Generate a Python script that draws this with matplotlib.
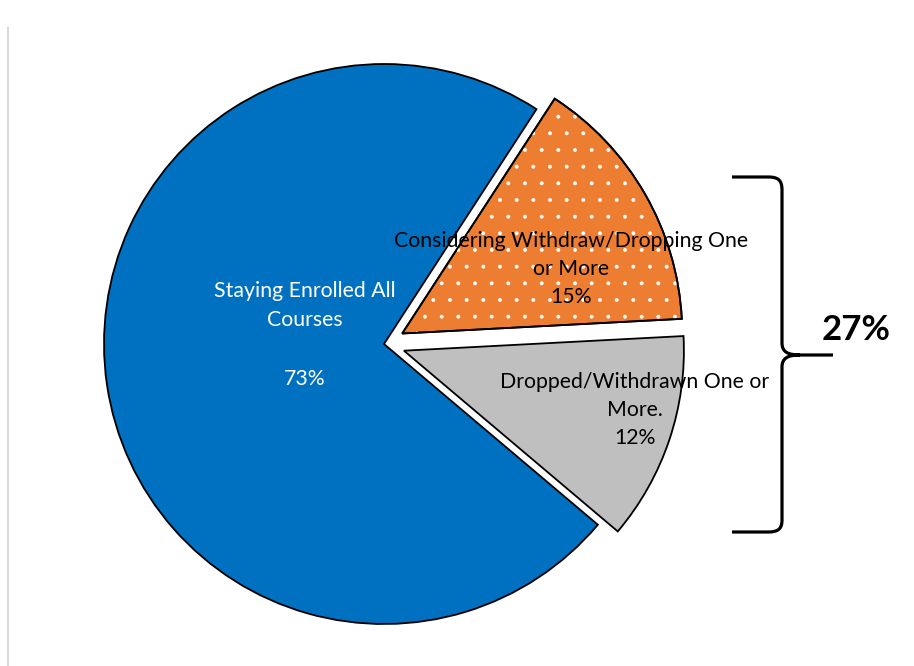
import matplotlib
matplotlib.use("Agg")
import matplotlib.pyplot as plt
import matplotlib.patches as mpatches
from matplotlib.path import Path

# data
categories = [
    "Staying Enrolled All\nCourses\n",
    "Considering Withdraw/Dropping One\nor More",
    "Dropped/Withdrawn One or\nMore.",
]
percents = [73, 15, 12]
colors = ["#0070C0", "#ED7D31", "#BFBFBF"]
text_colors = ["white", "black", "black"]
bracket_label = "27%"

plt.rcParams["font.family"] = ["Lato", "DejaVu Sans"]
plt.rcParams["hatch.linewidth"] = 0.35

W, H = 914, 666
fig = plt.figure(figsize=(W / 100, H / 100), dpi=100)
ax = fig.add_axes([0, 0, 1, 1])

# pie drawn in pixel-like data units (y up)
center = (384, H - 344)
radius = 280
wedges, _ = ax.pie(
    percents,
    colors=colors,
    explode=[0, 21, 21],
    startangle=319.8,
    counterclock=False,
    radius=radius,
    center=center,
    wedgeprops=dict(edgecolor="black", linewidth=1.3, joinstyle="miter"),
)

# white dotted pattern on the orange slice
w = wedges[1]
dots = mpatches.Wedge(w.center, w.r, w.theta1, w.theta2, facecolor="none",
                      edgecolor="white", hatch=".", linewidth=0, zorder=w.get_zorder() + 0.1)
ax.add_patch(dots)
outline = mpatches.Wedge(w.center, w.r, w.theta1, w.theta2, facecolor="none",
                         edgecolor="black", linewidth=1.3, zorder=w.get_zorder() + 0.2)
ax.add_patch(outline)

# slice labels
label_pos = [(305, 335), (571, 269), (635, 410)]
spacing = [1.58, 1.52, 1.52]
for cat, pct, tc, (lx, ly), ls in zip(categories, percents, text_colors, label_pos, spacing):
    ax.text(lx, H - ly, f"{cat}\n{pct}%", color=tc, ha="center", va="center",
            fontsize=15.3, linespacing=ls, zorder=5)

# curly bracket on the right
def yy(v):
    return H - v

verts = [
    (732, yy(177)), (768, yy(177)),
    (778, yy(177)), (782, yy(180)), (782, yy(190)),
    (782, yy(343)),
    (782, yy(352)), (788, yy(355)), (800, yy(355)),
    (833, yy(355)),
    (800, yy(355)),
    (788, yy(355)), (782, yy(358)), (782, yy(367)),
    (782, yy(520)),
    (782, yy(529)), (778, yy(532)), (768, yy(532)),
    (732, yy(532)),
]
codes = [
    Path.MOVETO, Path.LINETO,
    Path.CURVE4, Path.CURVE4, Path.CURVE4,
    Path.LINETO,
    Path.CURVE4, Path.CURVE4, Path.CURVE4,
    Path.LINETO,
    Path.MOVETO,
    Path.CURVE4, Path.CURVE4, Path.CURVE4,
    Path.LINETO,
    Path.CURVE4, Path.CURVE4, Path.CURVE4,
    Path.LINETO,
]
ax.add_patch(mpatches.PathPatch(Path(verts, codes), facecolor="none",
                                edgecolor="black", linewidth=2.3))
ax.text(856, yy(330), bracket_label, ha="center", va="center",
        fontsize=25, fontweight="bold")

# faint left border of the chart area
ax.plot([8, 8], [0, yy(28)], color="#D9D9D9", linewidth=1.5)

ax.set_xlim(0, W)
ax.set_ylim(0, H)
ax.set_aspect("auto")
ax.axis("off")

fig.savefig("out.png", dpi=100, facecolor="white")
